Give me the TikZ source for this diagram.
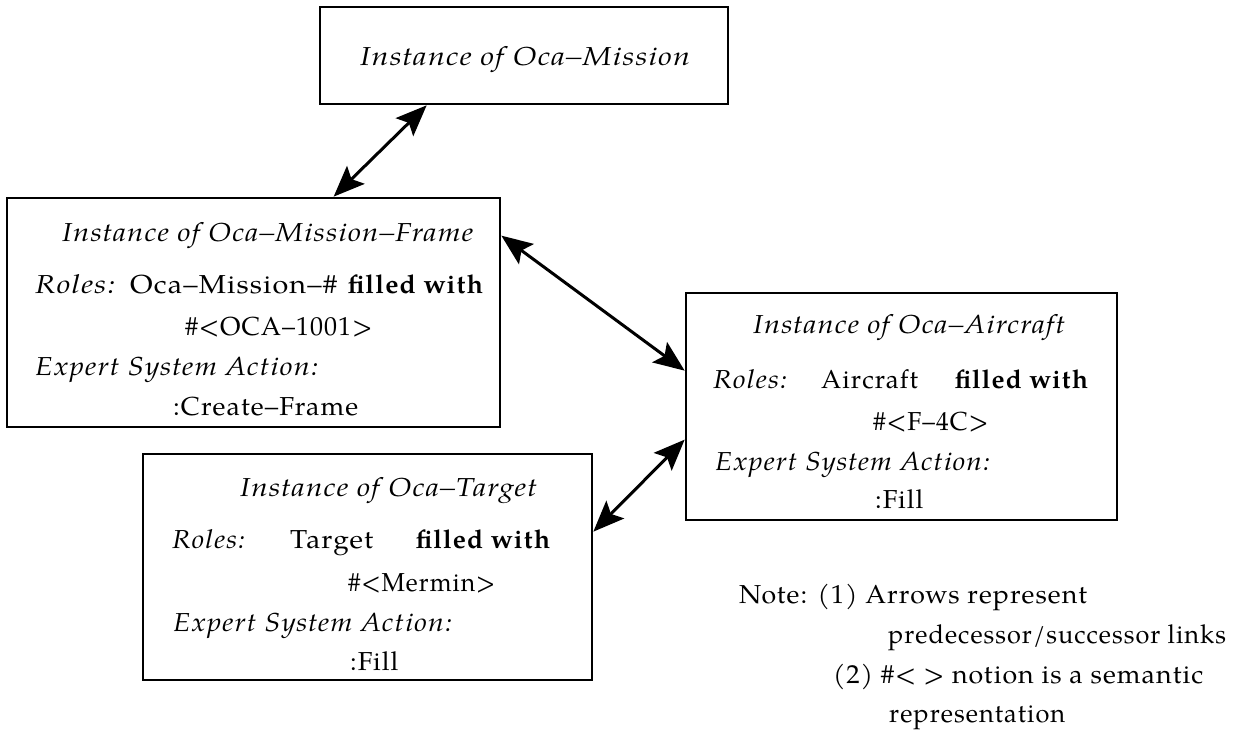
\documentclass[tikz,border=0pt]{standalone}
\usepackage{fontspec}
\setmainfont{TeX Gyre Pagella}[LetterSpace=4]
\usetikzlibrary{arrows.meta,calc}
\newcommand{\fw}[2]{\resizebox{#1pt}{\height}{#2}}
\begin{document}
\begin{tikzpicture}[x=1pt,y=-1pt,
  box/.style={draw,line width=2.7pt,inner sep=0pt},
  ln/.style={anchor=base west,inner sep=0pt,font=\fontsize{26}{30}\selectfont},
  it/.style={anchor=base west,inner sep=0pt,font=\fontsize{26}{30}\selectfont\itshape},
  bd/.style={anchor=base west,inner sep=0pt,font=\fontsize{26}{30}\selectfont\bfseries},
  link/.style={line width=3pt,{Stealth[length=31pt,width=25pt,inset=6pt]}-{Stealth[length=31pt,width=25pt,inset=6pt]}}]
\useasboundingbox (0,0) rectangle (1236,730);
% boxes
\node[box,minimum width=408pt,minimum height=97pt] (mission) at (524,55.5) {};
\node[box,minimum width=493pt,minimum height=229pt] (frame) at (253.5,312.5) {};
\node[box,minimum width=431pt,minimum height=227pt] (aircraft) at (901.5,406.5) {};
\node[box,minimum width=449pt,minimum height=226pt] (target) at (367.5,567) {};
% mission text
\node[it] (m1) at (360,66) {\fw{330}{Instance of Oca--Mission}};
% frame text
\node[it] (f1) at (62,241) {\fw{411}{Instance of Oca--Mission--Frame}};
\node[it] (f2) at (35,293) {\fw{80}{Roles:}};
\node[ln] (f3) at (130,293) {\fw{207}{Oca--Mission--\#}};
\node[bd] (f4) at (348,293) {\fw{135}{filled with}};
\node[ln] (f5) at (185,335) {\fw{187}{\#<OCA--1001>}};
\node[it] (f6) at (35,375) {\fw{283}{Expert System Action:}};
\node[ln] (f7) at (173,415) {\fw{185}{:Create--Frame}};
% aircraft text
\node[it] (a1) at (753,333) {\fw{312}{Instance of Oca--Aircraft}};
\node[it] (a2) at (713,388) {\fw{74}{Roles:}};
\node[ln] (a3) at (821,388) {\fw{97}{Aircraft}};
\node[bd] (a4) at (955,388) {\fw{133}{filled with}};
\node[ln] (a5) at (873,430) {\fw{115}{\#<F--4C>}};
\node[it] (a6) at (715,470) {\fw{275}{Expert System Action:}};
\node[ln] (a7) at (875,508) {\fw{48}{:Fill}};
% target text
\node[it] (t1) at (240,496) {\fw{297}{Instance of Oca--Target}};
\node[it] (t2) at (172,548) {\fw{73}{Roles:}};
\node[ln] (t3) at (290,548) {\fw{83}{Target}};
\node[bd] (t4) at (416,548) {\fw{134}{filled with}};
\node[ln] (t5) at (348,591) {\fw{147}{\#<Mermin>}};
\node[it] (t6) at (173,631) {\fw{279}{Expert System Action:}};
\node[ln] (t7) at (350,670) {\fw{48}{:Fill}};
% note
\node[ln] (n1) at (739,603) {\fw{348}{Note: (1) Arrows represent}};
\node[ln] (n2) at (888,643) {\fw{338}{predecessor/successor links}};
\node[ln] (n3) at (833,683) {\fw{370}{(2) \#< > notion is a semantic}};
\node[ln] (n4) at (889,722) {\fw{176}{representation}};
% links
\draw[link] ($(mission.south west)+(108,0)$) -- ($(frame.north west)+(328,0)$);
\draw[link] ($(frame.north east)+(0,39)$) -- ($(aircraft.north west)+(0,79)$);
\draw[link] ($(target.north east)+(0,79)$) -- ($(aircraft.north west)+(0,148)$);
\end{tikzpicture}
\end{document}
